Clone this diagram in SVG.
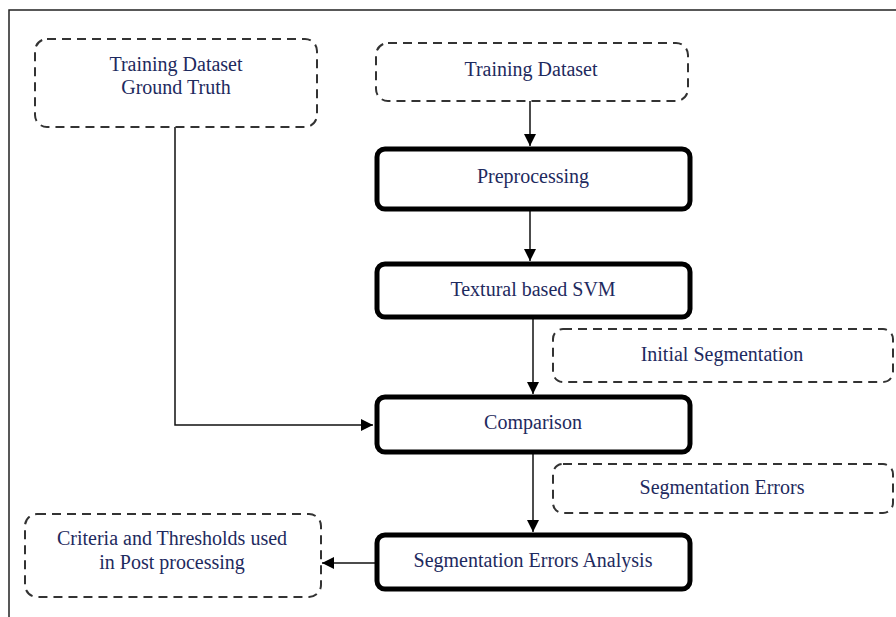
<svg xmlns="http://www.w3.org/2000/svg" width="896" height="617" viewBox="0 0 896 617">
<style>
.frame{fill:none;stroke:#222;stroke-width:1.5}
.dash{fill:#fff;stroke:#333;stroke-width:2;stroke-dasharray:9 6}
.solid{fill:#fff;stroke:#000;stroke-width:5}
.t{font-family:"Liberation Serif","Times New Roman",serif;font-size:20px;fill:#1e2a5e;text-anchor:middle}
.c{fill:none;stroke:#111;stroke-width:1.5}
</style>
<defs>
<marker id="ah" viewBox="0 0 10 10" refX="10" refY="5" markerWidth="12" markerHeight="12" markerUnits="userSpaceOnUse" orient="auto">
<path d="M0,0 L10,5 L0,10 z" fill="#000"/>
</marker>
</defs>
<rect width="896" height="617" fill="#fff"/>
<path class="frame" d="M9,617 V10 H896"/>
<g id="connectors">
<path class="c" d="M530,101 V146" marker-end="url(#ah)"/>
<path class="c" d="M530,210 V261" marker-end="url(#ah)"/>
<path class="c" d="M533,318 V394" marker-end="url(#ah)"/>
<path class="c" d="M175,127 V425 H373" marker-end="url(#ah)"/>
<path class="c" d="M533,453 V532" marker-end="url(#ah)"/>
<path class="c" d="M375,563 H322" marker-end="url(#ah)"/>
</g>
<g id="ground-truth">
<rect class="dash" x="35" y="39" width="282" height="88" rx="12"/>
<text class="t" x="176" y="71">Training Dataset</text>
<text class="t" x="176" y="94">Ground Truth</text>
</g>
<g id="training-dataset">
<rect class="dash" x="376" y="43" width="312" height="58" rx="12"/>
<text class="t" x="531" y="76">Training Dataset</text>
</g>
<g id="preprocessing">
<rect class="solid" x="377" y="149" width="313" height="60" rx="8"/>
<text class="t" x="533" y="183">Preprocessing</text>
</g>
<g id="svm">
<rect class="solid" x="377" y="264" width="313" height="53" rx="8"/>
<text class="t" x="533" y="296">Textural based SVM</text>
</g>
<g id="initial-segmentation">
<rect class="dash" x="553" y="329" width="340" height="53" rx="10"/>
<text class="t" x="722" y="361">Initial Segmentation</text>
</g>
<g id="comparison">
<rect class="solid" x="377" y="397" width="313" height="55" rx="8"/>
<text class="t" x="533" y="429">Comparison</text>
</g>
<g id="segmentation-errors">
<rect class="dash" x="553" y="464" width="340" height="49" rx="10"/>
<text class="t" x="722" y="494">Segmentation Errors</text>
</g>
<g id="errors-analysis">
<rect class="solid" x="377" y="535" width="313" height="54" rx="8"/>
<text class="t" x="533" y="567">Segmentation Errors Analysis</text>
</g>
<g id="criteria">
<rect class="dash" x="25" y="514" width="296" height="83" rx="12"/>
<text class="t" x="172" y="545">Criteria and Thresholds used</text>
<text class="t" x="172" y="569">in Post processing</text>
</g>
</svg>
